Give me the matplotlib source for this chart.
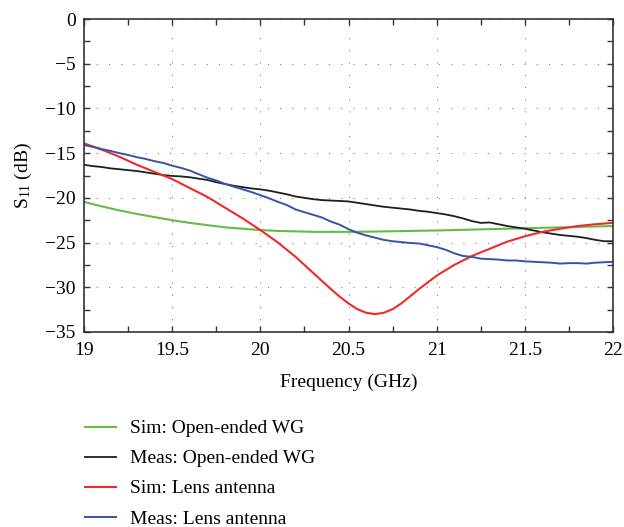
import matplotlib
matplotlib.use("Agg")
import matplotlib.pyplot as plt
from matplotlib.ticker import MultipleLocator

plt.rcParams["font.family"] = ["Liberation Serif", "DejaVu Serif"]
plt.rcParams["mathtext.fontset"] = "custom"
plt.rcParams["mathtext.rm"] = "Liberation Serif"
plt.rcParams["mathtext.it"] = "Liberation Serif:italic"

# Simulated return loss, open-ended waveguide
f_sim_wg = [19.0, 19.1, 19.2, 19.3, 19.4, 19.5, 19.6, 19.7, 19.8, 19.9, 20.0,
            20.1, 20.2, 20.3, 20.4, 20.5, 20.6, 20.7, 20.8, 20.9, 21.0,
            21.2, 21.4, 21.6, 21.8, 22.0]
s11_sim_wg = [-20.45, -20.95, -21.4, -21.8, -22.15, -22.5, -22.8, -23.05, -23.3, -23.45, -23.6,
              -23.7, -23.75, -23.8, -23.8, -23.8, -23.78, -23.75, -23.72, -23.68, -23.65,
              -23.55, -23.45, -23.35, -23.25, -23.15]

# Simulated return loss, lens antenna
f_sim_lens = [19.0, 19.1, 19.2, 19.3, 19.4, 19.5, 19.6, 19.7, 19.8, 19.9, 20.0,
              20.1, 20.2, 20.3, 20.4, 20.45, 20.5, 20.55, 20.6, 20.65, 20.7, 20.75, 20.8,
              20.85, 20.9, 21.0, 21.1, 21.2, 21.3, 21.4, 21.5, 21.6, 21.7, 21.8, 21.9, 22.0]
s11_sim_lens = [-13.9, -14.6, -15.4, -16.3, -17.1, -17.9, -18.9, -19.9, -21.1, -22.3, -23.6,
                -25.0, -26.6, -28.4, -30.2, -31.05, -31.8, -32.45, -32.85, -33.0, -32.85, -32.45, -31.8,
                -31.0, -30.2, -28.7, -27.5, -26.5, -25.7, -24.9, -24.3, -23.8, -23.45, -23.15, -22.95, -22.8]

# Measured return loss (0.05 GHz steps)
f_meas = [19.00 + 0.05 * i for i in range(61)]
s11_meas_wg = [-16.3, -16.45, -16.55, -16.7, -16.8, -16.9, -17.0, -17.15, -17.3, -17.45,
               -17.55, -17.6, -17.7, -17.85, -18.0, -18.25, -18.45, -18.65, -18.8, -18.95,
               -19.05, -19.2, -19.4, -19.6, -19.85, -20.0, -20.15, -20.25, -20.3, -20.35,
               -20.4, -20.55, -20.7, -20.85, -21.0, -21.1, -21.2, -21.3, -21.45, -21.55,
               -21.7, -21.85, -22.05, -22.3, -22.6, -22.8, -22.75, -22.95, -23.15, -23.3,
               -23.45, -23.65, -23.85, -24.0, -24.15, -24.25, -24.35, -24.5, -24.7, -24.85,
               -24.85]
s11_meas_lens = [-14.1, -14.3, -14.55, -14.75, -15.0, -15.2, -15.45, -15.65, -15.9, -16.1,
                 -16.4, -16.65, -16.95, -17.35, -17.75, -18.05, -18.45, -18.75, -19.05, -19.35,
                 -19.7, -20.05, -20.45, -20.8, -21.3, -21.6, -21.9, -22.2, -22.65, -23.0,
                 -23.5, -23.9, -24.2, -24.45, -24.7, -24.85, -24.95, -25.05, -25.1, -25.3,
                 -25.5, -25.8, -26.2, -26.5, -26.6, -26.8, -26.85, -26.9, -27.0, -27.0,
                 -27.1, -27.15, -27.2, -27.25, -27.35, -27.3, -27.3, -27.35, -27.25, -27.2,
                 -27.15]

x_ticks = [19, 19.5, 20, 20.5, 21, 21.5, 22]
x_tick_labels = ["19", "19.5", "20", "20.5", "21", "21.5", "22"]
y_ticks = [0, -5, -10, -15, -20, -25, -30, -35]

fig = plt.figure(figsize=(6.24, 5.27), dpi=100)
ax = fig.add_axes([84 / 624, 1 - 332 / 527, (613 - 84) / 624, (332 - 19) / 527])

l1, = ax.plot(f_sim_wg, s11_sim_wg, color="#66bb44", lw=1.5, label="Sim: Open-ended WG")
l2, = ax.plot(f_meas, s11_meas_wg, color="#1e1e1e", lw=1.3, label="Meas: Open-ended WG")
l3, = ax.plot(f_sim_lens, s11_sim_lens, color="#ee2a2a", lw=1.5, label="Sim: Lens antenna")
l4, = ax.plot(f_meas, s11_meas_lens, color="#3a52a4", lw=1.4, label="Meas: Lens antenna")

ax.set_xlim(19, 22)
ax.set_ylim(-35, 0)
ax.set_xticks(x_ticks)
ax.set_xticklabels(x_tick_labels)
ax.set_yticks(y_ticks)
ax.xaxis.set_minor_locator(MultipleLocator(0.25))
ax.yaxis.set_minor_locator(MultipleLocator(2.5))

ax.grid(True, which="major", color="#808080", lw=0.8, linestyle=(0, (1, 10)))
ax.tick_params(which="both", direction="in", top=True, right=True,
               width=1.0, color="#333333", labelsize=14)
ax.tick_params(axis="x", which="both", pad=7.5)
ax.tick_params(axis="y", which="both", pad=6)
ax.tick_params(which="major", length=4.5)
ax.tick_params(which="minor", length=4.5)
for sp in ax.spines.values():
    sp.set_color("#333333")
    sp.set_linewidth(1.2)

ax.set_xlabel("Frequency (GHz)", fontsize=14, labelpad=10)
ax.set_ylabel("S$_{11}$ (dB)", fontsize=14, labelpad=8)

fig.legend(handles=[l1, l2, l3, l4], loc="upper left",
           bbox_to_anchor=(77 / 624, 1 - 412 / 527), frameon=False,
           fontsize=14, handlelength=1.6, handletextpad=0.7, labelspacing=0.64,
           borderaxespad=0)

fig.savefig("out.png", dpi=100)
